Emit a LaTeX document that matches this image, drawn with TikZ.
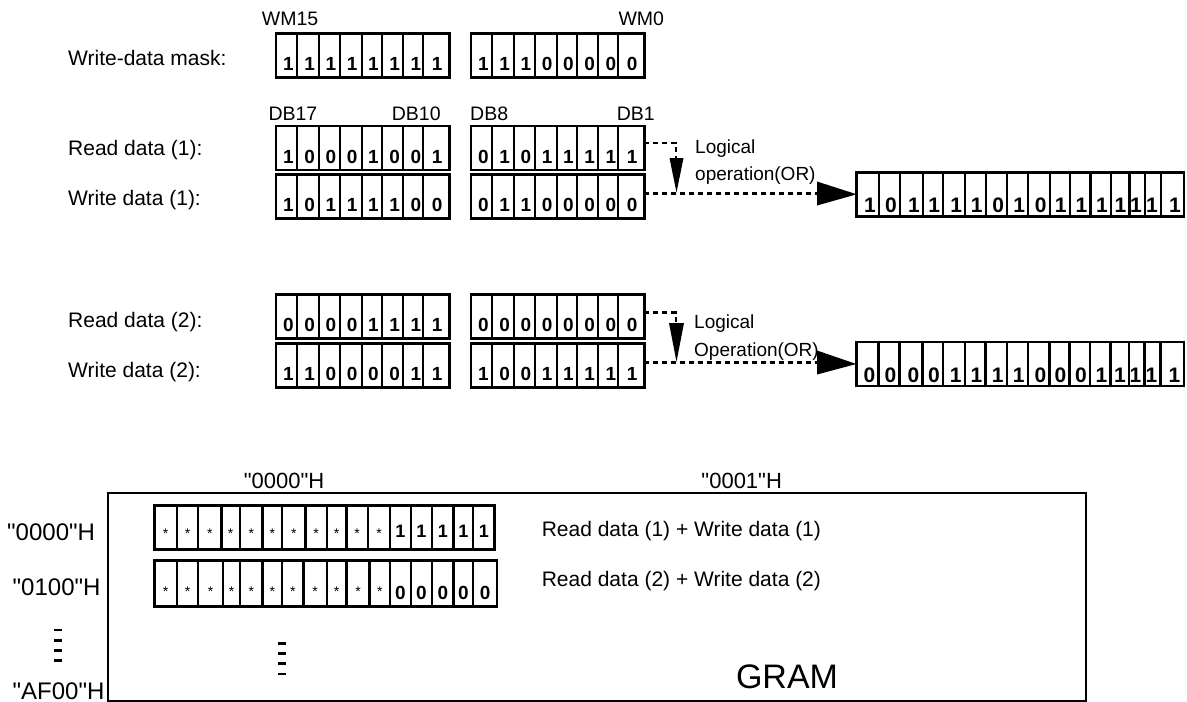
\documentclass[tikz,border=0pt]{standalone}
\usepackage{fontspec}
\setmainfont{Liberation Sans}
\newfontfamily\qfont{Liberation Sans}
\usetikzlibrary{calc}
\tikzset{
  cellbox/.style={draw, line width=2.5pt, inner sep=0pt, outer sep=0pt, anchor=north west},
  divider/.style={line width=2.3pt},
  dig/.style={font=\fontsize{19}{19}\selectfont\bfseries, inner sep=0pt, anchor=base east},
  bigdig/.style={font=\fontsize{21}{21}\selectfont\bfseries, inner sep=0pt, anchor=base east},
  lbl/.style={font=\fontsize{21}{21}\selectfont, inner sep=0pt, anchor=base west},
  toplbl/.style={font=\fontsize{19.5}{19.5}\selectfont, inner sep=0pt, anchor=base west},
  oplbl/.style={font=\fontsize{19}{19}\selectfont, inner sep=0pt, anchor=base west},
  addr/.style={font=\qfont\fontsize{24}{24}\selectfont, inner sep=0pt, anchor=base west},
  coladdr/.style={font=\qfont\fontsize{22}{22}\selectfont, inner sep=0pt, anchor=base},
  dotline/.style={line width=2.5pt, dash pattern=on 5pt off 4pt},
  startxt/.style={font=\fontsize{14}{14}\selectfont, inner sep=0pt, anchor=base},
  gdigA/.style={font=\fontsize{18}{18}\selectfont\bfseries, inner sep=0pt, anchor=base},
  gdigB/.style={font=\fontsize{19}{19}\selectfont\bfseries, inner sep=0pt, anchor=base},
  ellbar/.style={line width=2.7pt},
}
% 8-cell group: name, left, top, digits
\newcommand\octet[4]{%
  \node[cellbox, minimum width=173.3pt, minimum height=44pt] (#1) at (#2,#3) {};
  \foreach \o in {20.7,43.3,64,85.7,105.7,127.3,147.3}
    \draw[divider] ({#2+\o},#3) -- ({#2+\o},{#3+44});
  \foreach \d [count=\i from 0] in {#4}
    \node[dig] at ({#2+18+21.24*\i},{#3+37}) {\d};
}
% 16-cell result row: name, left, top, width, dividers, digit/right-edge pairs
\newcommand\wordrow[6]{%
  \node[cellbox, minimum width=#4pt, minimum height=44pt] (#1) at (#2,#3) {};
  \foreach \o in {#5}
    \draw[divider] ({#2+\o},#3) -- ({#2+\o},{#3+44});
  \foreach \d/\r in {#6}
    \node[bigdig] at ({#2+\r},{#3+40}) {\d};
}
\begin{document}
\begin{tikzpicture}[x=1pt,y=-1pt]
\useasboundingbox (0,0) rectangle (1187,702);

% ---------- labels on the left ----------
\node[lbl] (lmask) at (68,65) {Write-data mask:};
\node[lbl] (lr1) at (68,155.3) {Read data (1):};
\node[lbl] (lw1) at (68,205.3) {Write data (1):};
\node[lbl] (lr2) at (68,327) {Read data (2):};
\node[lbl] (lw2) at (68,377) {Write data (2):};

% ---------- bit labels ----------
\node[toplbl] (wm15) at (261.7,25) {WM15};
\node[toplbl] (wm0) at (618.3,25) {WM0};
\node[toplbl] (db17) at (268.3,120) {DB17};
\node[toplbl] (db10) at (391.7,120) {DB10};
\node[toplbl] (db8) at (470,120) {DB8};
\node[toplbl] (db1) at (616.7,120) {DB1};

% ---------- 8-bit groups ----------
\octet{m1a}{276}{33.3}{1,1,1,1,1,1,1,1}
\octet{m1b}{471}{33.3}{1,1,1,0,0,0,0,0}
\octet{r1a}{276}{126}{1,0,0,0,1,0,0,1}
\octet{r1b}{471}{126}{0,1,0,1,1,1,1,1}
\octet{w1a}{276}{174.7}{1,0,1,1,1,1,0,0}
\octet{w1b}{471}{174.7}{0,1,1,0,0,0,0,0}
\octet{r2a}{276}{294.3}{0,0,0,0,1,1,1,1}
\octet{r2b}{471}{294.3}{0,0,0,0,0,0,0,0}
\octet{w2a}{276}{343.3}{1,1,0,0,0,0,1,1}
\octet{w2b}{471}{343.3}{1,0,0,1,1,1,1,1}

% ---------- result rows ----------
\wordrow{res1}{856.7}{172.3}{327.3}
  {22.3,43.3,66.3,86.6,108.5,129.1,150.5,171.5,193.1,213.1,233.8,254.3,272.8,288.3,304.3}
  {1/19.3,0/40.3,1/63.3,1/83.6,1/105.5,1/126.1,0/147.5,1/168.5,0/190.1,1/210.1,1/230.8,1/251.3,1/269.8,1/285.3,1/301.3,1/324.3}
\wordrow{res2}{856.3}{342}{327.7}
  {22.3,43.3,66.3,86.6,108.5,129.1,150.5,171.5,193.1,213.1,233.8,254.3,272.8,288.3,304.3}
  {0/19.3,0/40.3,0/63.3,0/83.6,1/105.5,1/126.1,1/147.5,1/168.5,0/190.1,0/210.1,0/230.8,1/251.3,1/269.8,1/285.3,1/301.3,1/324.3}

% ---------- logical operation 1 ----------
\node[oplbl] (op1a) at (695,153.3) {Logical};
\node[oplbl] (op1b) at (695,180) {operation(OR)};
\coordinate (j1) at (676,143);
\coordinate (t1) at (676,158);
\draw[dotline] (r1b.east |- j1) -- (j1) -- (t1);
\fill (669.5,158) -- (683.5,158) -- (676.5,192.5) -- cycle;
\coordinate (h1) at (817,193.5);
\draw[dotline] (w1b.east |- h1) -- (h1);
\fill (817,181.5) -- (817,205.5) -- (res1.west) -- cycle;

% ---------- logical operation 2 ----------
\node[oplbl] (op2a) at (694,328.3) {Logical};
\node[oplbl] (op2b) at (694,356.7) {Operation(OR)};
\coordinate (j2) at (676,312.7);
\coordinate (t2) at (676,323);
\draw[dotline] (r2b.east |- j2) -- (j2) -- (t2);
\fill (669,323) -- (684,323) -- (676.5,361.7) -- cycle;
\coordinate (h2) at (817,362.5);
\draw[dotline] (w2b.east |- h2) -- (h2);
\fill (817,350.5) -- (817,374.5) -- (res2.west) -- cycle;

% ---------- GRAM ----------
\node[draw, line width=2.2pt, inner sep=0pt, outer sep=0pt, anchor=north west,
      minimum width=978pt, minimum height=207.5pt] (gram) at (108,493.3) {};
\node[coladdr] (c0) at (284,488.3) {"0000"H};
\node[coladdr] (c1) at (741.7,488.3) {"0001"H};
\node[addr] (a0) at (7,540) {"0000"H};
\node[addr] (a1) at (12.5,595) {"0100"H};
\node[addr] (a2) at (12.5,699) {"AF00"H};
\node[font=\fontsize{34}{34}\selectfont, inner sep=0pt, anchor=base] (gramlbl) at (787,688.3) {GRAM};
\node[lbl] (g1txt) at (541.6,536.7) {Read data (1) + Write data (1)};
\node[lbl] (g2txt) at (541.6,586.7) {Read data (2) + Write data (2)};

% GRAM row 1
\node[cellbox, minimum width=340.3pt, minimum height=43.6pt] (g1) at (154.3,505.7) {};
\foreach \o in {22.5,43.9,67.1,85.7,108.2,127.8,151.1,172.5,192.1,213.6,235.7,256.4,277.8,299.3,318.9}
  \draw[divider] ({154.3+\o},505.7) -- ({154.3+\o},549.3);
\foreach \c in {11.25,33.2,55.5,76.4,97,118,139.5,161.8,182.3,202.9,224.7}
  \node[startxt] at ({154.3+\c},538) {*};
\foreach \c in {246,267.1,288.6,309.1,329.6}
  \node[gdigA] at ({154.3+\c},537) {1};

% GRAM row 2
\node[cellbox, minimum width=342.8pt, minimum height=46pt] (g2) at (154.3,560.7) {};
\foreach \o in {22.5,43.9,68.9,85.7,108.2,127.8,149.3,172.5,192.1,215.3,235.7,256.4,277.8,299.3,318.9}
  \draw[divider] ({154.3+\o},560.7) -- ({154.3+\o},606.7);
\foreach \c in {11.25,33.2,56.4,77.3,97,118,138.6,160.9,182.3,203.7,225.5}
  \node[startxt] at ({154.3+\c},596.3) {*};
\foreach \c in {246,267.1,288.6,309.1,330.9}
  \node[gdigB] at ({154.3+\c},599.3) {0};

% ellipses
\foreach \yy in {630,640.7,650.7,660.7}
  \draw[ellbar] (54,\yy) -- (61.7,\yy);
\foreach \yy in {643.3,653.3,663.3,674}
  \draw[ellbar] (278.3,\yy) -- (286,\yy);
\end{tikzpicture}
\end{document}
